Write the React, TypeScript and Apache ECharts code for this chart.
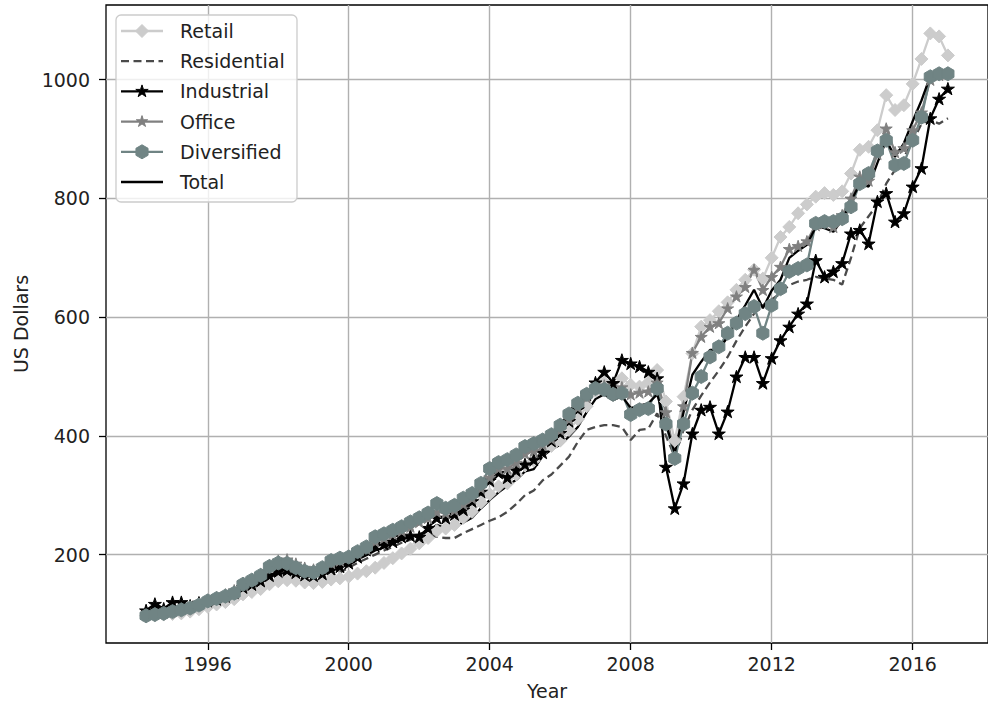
import React, { useEffect, useRef } from 'react';
import * as echarts from 'echarts';

// Quarterly observations, 1994Q1 .. 2016Q4 (quarter-end, decimal years)
const FIRST_YEAR = 1994;
const N_QUARTERS = 92;
const quarters: number[] = Array.from({ length: N_QUARTERS }, (_, i) => FIRST_YEAR + 0.25 * (i + 1));

const xTicks = [1996, 2000, 2004, 2008, 2012, 2016];
const yTicks = [200, 400, 600, 800, 1000];

const retail = [
  97, 98, 99, 100, 101, 104, 108, 112, 116, 120,
  125, 133, 137, 142, 150, 155, 157, 156, 153, 152,
  154, 158, 160, 163, 168, 172, 178, 186, 194, 202,
  210, 219, 228, 240, 244, 250, 262, 272, 288, 302,
  315, 320, 335, 350, 358, 375, 383, 392, 410, 428,
  450, 475, 490, 478, 497, 486, 483, 490, 511, 458,
  392, 466, 539, 584, 595, 610, 625, 646, 663, 680,
  665, 700, 735, 752, 775, 790, 803, 809, 806, 812,
  842, 882, 887, 915, 974, 949, 957, 993, 1035, 1078,
  1073, 1041,
];

const residential = [
  100, 102, 103, 105, 107, 110, 113, 117, 121, 125,
  131, 140, 144, 148, 155, 158, 160, 159, 157, 156,
  157, 165, 170, 178, 186, 193, 200, 207, 213, 220,
  225, 232, 235, 230, 228, 228, 236, 243, 250, 257,
  263, 272, 285, 300, 308, 325, 335, 350, 365, 390,
  410, 415, 418, 418, 415, 393, 410, 412, 438, 400,
  365, 410, 444, 468, 490, 510, 533, 560, 584, 606,
  620, 630, 640, 654, 660, 663, 668, 665, 663, 655,
  700, 750, 770, 790, 825, 848, 870, 895, 926, 932,
  926, 935,
];

const industrial = [
  106, 117, 109, 120, 120, 114, 119, 122, 125, 130,
  136, 145, 150, 156, 165, 172, 174, 170, 166, 165,
  168, 176, 180, 186, 196, 208, 215, 218, 222, 230,
  232, 230, 245, 262, 262, 268, 276, 290, 306, 325,
  338, 330, 342, 352, 360, 372, 392, 405, 425, 445,
  470, 490, 508, 489, 528, 522, 517, 508, 497, 348,
  278, 320, 404, 444, 449, 404, 441, 500, 533, 533,
  489, 531, 561, 584, 606, 623, 696, 668, 677, 691,
  741, 747, 724, 795, 809, 761, 775, 820, 851, 935,
  968, 985,
];

const office = [
  98, 100, 102, 105, 108, 112, 117, 123, 128, 133,
  140, 152, 158, 167, 182, 190, 192, 185, 178, 175,
  178, 186, 190, 196, 203, 210, 222, 228, 235, 240,
  247, 255, 262, 272, 270, 275, 285, 295, 312, 330,
  345, 345, 355, 370, 375, 385, 395, 410, 428, 448,
  465, 480, 485, 472, 482, 470, 473, 475, 490, 440,
  365, 450, 540, 567, 584, 590, 615, 635, 651, 680,
  646, 668, 685, 715, 720, 728, 755, 758, 752, 772,
  800, 837, 830, 875, 918, 878, 885, 915, 945, 1000,
  1008, 1012,
];

const diversified = [
  97, 99, 101, 104, 107, 110, 115, 122, 126, 130,
  135, 150, 157, 165, 180, 186, 185, 178, 172, 170,
  178, 190, 194, 196, 205, 213, 230, 235, 241, 247,
  255, 262, 270, 286, 278, 283, 295, 303, 320, 345,
  355, 360, 368, 382, 387, 393, 402, 418, 437, 455,
  470, 480, 478, 470, 472, 436, 444, 446, 480, 420,
  362, 420, 472, 500, 533, 550, 573, 590, 606, 618,
  573, 620, 648, 677, 682, 688, 758, 761, 761, 766,
  786, 825, 842, 880, 898, 856, 859, 898, 937, 1005,
  1010, 1010,
];

const total = [
  100, 101, 103, 105, 107, 110, 114, 119, 123, 127,
  133, 143, 147, 152, 162, 168, 169, 166, 163, 163,
  166, 172, 178, 185, 192, 199, 207, 212, 219, 225,
  230, 234, 240, 250, 244, 247, 254, 262, 278, 292,
  305, 316, 326, 340, 344, 366, 377, 385, 399, 415,
  440, 462, 470, 460, 467, 447, 451, 455, 470, 420,
  371, 440, 503, 525, 545, 545, 567, 595, 620, 646,
  615, 645, 663, 700, 712, 722, 752, 750, 744, 764,
  795, 825, 820, 860, 898, 870, 893, 930, 965, 1006,
  1009, 1003,
];

const FONT = 'DejaVu Sans';
const STAR = 'path://M0,-10L2.245,-3.09L9.511,-3.09L3.633,1.18L5.878,8.09L0,3.82L-5.878,8.09L-3.633,1.18L-9.511,-3.09L-2.245,-3.09Z';
const HEX = 'path://M0,-10L8.66,-5L8.66,5L0,10L-8.66,5L-8.66,-5Z';
const DASH = [8, 4.5];

type Spec = {
  name: string;
  values: number[];
  color: string;
  symbol: string;
  size: number;
  dashed?: boolean;
};

const specs: Spec[] = [
  { name: 'Retail', values: retail, color: '#cccccc', symbol: 'diamond', size: 13 },
  { name: 'Residential', values: residential, color: '#4a4a4a', symbol: 'none', size: 0, dashed: true },
  { name: 'Industrial', values: industrial, color: '#000000', symbol: STAR, size: 13 },
  { name: 'Office', values: office, color: '#808080', symbol: STAR, size: 12 },
  { name: 'Diversified', values: diversified, color: '#708484', symbol: HEX, size: 14 },
  { name: 'Total', values: total, color: '#000000', symbol: 'none', size: 0 },
];

function starPts(cx: number, cy: number, r: number): number[][] {
  const pts: number[][] = [];
  for (let k = 0; k < 10; k++) {
    const rr = k % 2 === 0 ? r : r * 0.382;
    const a = -Math.PI / 2 + (k * Math.PI) / 5;
    pts.push([cx + rr * Math.cos(a), cy + rr * Math.sin(a)]);
  }
  return pts;
}
function hexPts(cx: number, cy: number, r: number): number[][] {
  const pts: number[][] = [];
  for (let k = 0; k < 6; k++) {
    const a = -Math.PI / 2 + (k * Math.PI) / 3;
    pts.push([cx + r * Math.cos(a), cy + r * Math.sin(a)]);
  }
  return pts;
}
function diamondPts(cx: number, cy: number, r: number): number[][] {
  return [[cx, cy - r], [cx + r, cy], [cx, cy + r], [cx - r, cy]];
}

function buildLegend(): any[] {
  const els: any[] = [];
  const lx = 116, ly = 15, lw = 181, lh = 187;
  els.push({
    type: 'rect',
    shape: { x: lx, y: ly, width: lw, height: lh, r: 5 },
    style: { fill: 'rgba(255,255,255,0.8)', stroke: '#cccccc', lineWidth: 1.3 },
    z: 100,
  });
  specs.forEach((s, k) => {
    const cy = 31 + 30.2 * k;
    els.push({
      type: 'line',
      shape: { x1: 121, y1: cy, x2: 163, y2: cy },
      style: { stroke: s.color, lineWidth: 2.3, lineDash: s.dashed ? DASH : null },
      z: 101,
    });
    let pts: number[][] | null = null;
    if (s.symbol === 'diamond') pts = diamondPts(142, cy, s.size / 2);
    else if (s.symbol === STAR) pts = starPts(142, cy, s.size / 2);
    else if (s.symbol === HEX) pts = hexPts(142, cy, s.size / 2);
    if (pts) {
      els.push({
        type: 'polygon',
        shape: { points: pts },
        style: { fill: s.color, stroke: s.color, lineWidth: 1 },
        z: 102,
      });
    }
    els.push({
      type: 'text',
      x: 180,
      y: cy,
      style: { text: s.name, font: `19px "${FONT}"`, fill: '#222222', verticalAlign: 'middle', align: 'left' },
      z: 102,
    });
  });
  return els;
}

export default function App() {
  const ref = useRef<HTMLDivElement>(null);
  useEffect(() => {
    if (!ref.current) return;
    const chart = echarts.init(ref.current, null, { renderer: 'svg' });
    const series = specs.map((s) => ({
      name: s.name,
      type: 'line',
      data: quarters.map((q, i) => [q, s.values[i]]),
      symbol: s.symbol,
      symbolSize: s.size,
      symbolKeepAspect: true,
      showSymbol: s.symbol !== 'none',
      lineStyle: { color: s.color, width: 2.3, type: s.dashed ? DASH : 'solid' },
      itemStyle: { color: s.color, borderColor: s.color, borderWidth: 1 },
      emphasis: { disabled: true },
      silent: true,
    }));
    chart.setOption({
      animation: false,
      backgroundColor: '#ffffff',
      grid: {
        left: 106, top: 5, width: 890, height: 638,
        show: true, borderColor: '#000000', borderWidth: 1.3, backgroundColor: 'transparent',
      },
      xAxis: {
        type: 'value',
        min: 1993.1125,
        max: 2018.1375,
        axisLine: { show: false },
        axisTick: { show: true, length: 7, lineStyle: { color: '#000', width: 1.3 }, customValues: xTicks },
        axisLabel: {
          customValues: xTicks, fontSize: 19, fontFamily: FONT, color: '#222', margin: 11,
          formatter: (v: number) => String(Math.round(v)),
        },
        splitLine: { show: true, lineStyle: { color: '#b0b0b0', width: 1.4 } },
        name: 'Year',
        nameLocation: 'middle',
        nameGap: 38,
        nameTextStyle: { fontSize: 19, fontFamily: FONT, color: '#222' },
      },
      yAxis: {
        type: 'value',
        min: 51.1,
        max: 1125.9,
        axisLine: { show: false },
        axisTick: { show: true, length: 7, lineStyle: { color: '#000', width: 1.3 }, customValues: yTicks },
        axisLabel: {
          customValues: yTicks, fontSize: 19, fontFamily: FONT, color: '#222', margin: 16,
          formatter: (v: number) => String(Math.round(v)),
        },
        splitLine: { show: true, lineStyle: { color: '#b0b0b0', width: 1.4 } },
        name: 'US Dollars',
        nameLocation: 'middle',
        nameGap: 76,
        nameTextStyle: { fontSize: 19, fontFamily: FONT, color: '#222' },
      },
      graphic: buildLegend(),
      series,
    });
    return () => chart.dispose();
  }, []);
  return <div ref={ref} style={{ position: 'absolute', left: 0, top: 0, width: 988, height: 705 }} />;
}
